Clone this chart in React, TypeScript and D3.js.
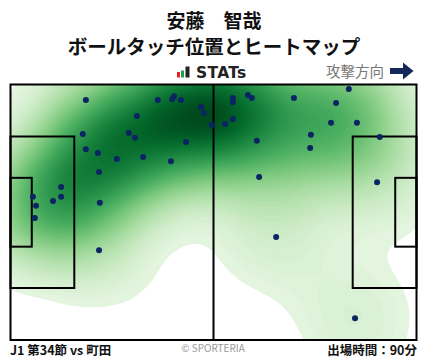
import React from "react";
import * as d3 from "d3";

const W = 428;
const H = 359;
const PITCH_LEN = 105;
const PITCH_WID = 68;

// ball touch positions in pitch metres (x: own goal -> attack, y: top -> bottom)
const touchX = [
  19.5, 38.1, 41.8, 42.3, 44.1, 49.3, 50.0, 52.1, 32.7, 57.5, 57.5, 61.4, 62.4, 73.3, 87.5, 84.2,
  57.5, 55.5, 82.9, 89.6, 77.7, 95.5, 63.7, 77.5, 64.3, 94.8, 18.7, 30.6, 32.2, 45.4, 19.5, 22.6,
  27.5, 34.3, 41.5, 22.9, 13.1, 13.1, 5.8, 11.0, 6.6, 23.1, 6.3, 22.9, 68.7, 89.1,
];
const touchY = [
  4.1, 4.1, 3.9, 3.1, 4.1, 6.0, 7.6, 10.8, 8.4, 3.6, 4.7, 2.8, 3.6, 3.6, 1.2, 4.9,
  9.2, 10.5, 10.2, 10.2, 13.4, 14.0, 15.0, 16.9, 24.6, 26.0, 13.2, 12.9, 14.2, 15.3, 17.2, 18.2,
  19.8, 19.3, 20.4, 23.3, 27.3, 29.9, 29.9, 31.0, 32.3, 31.5, 35.5, 44.1, 40.6, 62.2,
];

const titleLines = ["安藤　智哉", "ボールタッチ位置とヒートマップ"];
const footerLeft = "J1 第34節 vs 町田";
const footerCenter = "© SPORTERIA";
const footerRight = "出場時間：90分";
const directionLabel = "攻撃方向";

export default function App() {
  const x0 = 10.5, x1 = 416.5, y0 = 84.5, y1 = 340;
  const xs = d3.scaleLinear().domain([0, PITCH_LEN]).range([x0, x1]);
  const ys = d3.scaleLinear().domain([0, PITCH_WID]).range([y0, y1]);

  const pts = touchX.map((v, i) => [v, touchY[i]] as [number, number]);

  const all = d3
    .contourDensity<[number, number]>()
    .x((d) => xs(d[0]) - x0)
    .y((d) => ys(d[1]) - y0)
    .size([x1 - x0, y1 - y0])
    .cellSize(2)
    .bandwidth(37)
    .thresholds(80)(pts);

  const maxV = d3.max(all, (c) => c.value) || 1;
  const density = all.filter((c) => c.value >= maxV * 0.03);
  const color = (v: number) => d3.interpolateGreens(0.06 + Math.pow(v / maxV, 0.8) * 0.92);
  const path = d3.geoPath();

  const font = "'Noto Sans CJK JP', 'Noto Sans', sans-serif";

  const penW = 16.5, penH = 40.32, gaW = 5.5, gaH = 18.32;

  return (
    <svg width={W} height={H} style={{ position: "absolute", left: 0, top: 0, background: "#fff" }}>
      <rect x={0} y={0} width={W} height={H} fill="#fff" />
      <text x={214} y={28} textAnchor="middle" fontFamily={font} fontWeight={700} fontSize={19} fill="#111">
        {titleLines[0]}
      </text>
      <text x={214} y={54} textAnchor="middle" fontFamily={font} fontWeight={700} fontSize={19.5} fill="#111">
        {titleLines[1]}
      </text>
      {/* STATs logo */}
      <rect x={177} y={72} width={3} height={5.5} fill="#e8202a" />
      <rect x={181} y={70.5} width={3} height={7} fill="#16a34a" />
      <rect x={185.5} y={66.5} width={4} height={11} fill="#222" />
      <text x={196} y={77.5} fontFamily="'DejaVu Sans', sans-serif" fontWeight={700} fontSize={15.5} fill="#222" letterSpacing={0.3}>
        STATs
      </text>
      {/* direction */}
      <text x={384} y={77} textAnchor="end" fontFamily={font} fontSize={14.5} fill="#777">
        {directionLabel}
      </text>
      <path d="M390,68 L403,68 L403,62.5 L413.5,71 L403,79.5 L403,74 L390,74 Z" fill="#14285a" />

      <defs>
        <clipPath id="pitchClip">
          <rect x={x0} y={y0} width={x1 - x0} height={y1 - y0} />
        </clipPath>
      </defs>
      <rect x={x0} y={y0} width={x1 - x0} height={y1 - y0} fill="#fff" />
      <g clipPath="url(#pitchClip)">
        <g transform={`translate(${x0},${y0})`}>
          {density.map((c, i) => (
            <path key={i} d={path(c) || ""} fill={color(c.value)} />
          ))}
        </g>
      </g>
      <g fill="none" stroke="#000" strokeWidth={2}>
        <rect x={x0} y={y0} width={x1 - x0} height={y1 - y0} />
        <line x1={xs(PITCH_LEN / 2)} x2={xs(PITCH_LEN / 2)} y1={y0} y2={y1} />
        <rect x={xs(0)} y={ys(PITCH_WID / 2 - penH / 2)} width={xs(penW) - xs(0)} height={ys(PITCH_WID / 2 + penH / 2) - ys(PITCH_WID / 2 - penH / 2)} />
        <rect x={xs(0)} y={ys(PITCH_WID / 2 - gaH / 2)} width={xs(gaW) - xs(0)} height={ys(PITCH_WID / 2 + gaH / 2) - ys(PITCH_WID / 2 - gaH / 2)} />
        <rect x={xs(PITCH_LEN - penW)} y={ys(PITCH_WID / 2 - penH / 2)} width={xs(PITCH_LEN) - xs(PITCH_LEN - penW)} height={ys(PITCH_WID / 2 + penH / 2) - ys(PITCH_WID / 2 - penH / 2)} />
        <rect x={xs(PITCH_LEN - gaW)} y={ys(PITCH_WID / 2 - gaH / 2)} width={xs(gaW) - xs(0)} height={ys(PITCH_WID / 2 + gaH / 2) - ys(PITCH_WID / 2 - gaH / 2)} />
      </g>
      <g fill="#0b2463">
        {pts.map((p, i) => (
          <circle key={i} cx={xs(p[0])} cy={ys(p[1])} r={3} />
        ))}
      </g>
      <text x={10} y={355} fontFamily={font} fontWeight={700} fontSize={12.5} fill="#111">
        {footerLeft}
      </text>
      <text x={213} y={352} textAnchor="middle" fontFamily={font} fontSize={10} fill="#999">
        {footerCenter}
      </text>
      <text x={417} y={355} textAnchor="end" fontFamily={font} fontWeight={700} fontSize={12.5} fill="#111">
        {footerRight}
      </text>
    </svg>
  );
}
